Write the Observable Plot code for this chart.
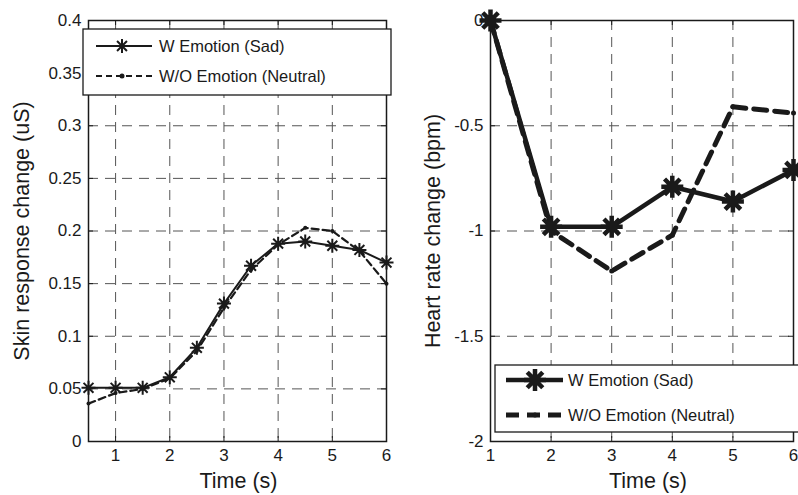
<!DOCTYPE html>
<html><head><meta charset="utf-8">
<script src="https://cdn.jsdelivr.net/npm/d3@7"></script>
<script src="https://cdn.jsdelivr.net/npm/@observablehq/plot@0.6"></script>
<style>
body{margin:0;background:#fff;}
#wrap{position:relative;width:798px;height:495px;overflow:hidden;background:#fff;font-family:"Liberation Sans",Arial,Helvetica,sans-serif;}
#wrap > svg{position:absolute;top:0;}
</style></head><body><div id="wrap"></div>
<script>
// ---- data ----
const skinTime = [0.5,1,1.5,2,2.5,3,3.5,4,4.5,5,5.5,6];
const skinSad = [0.051,0.051,0.051,0.061,0.089,0.131,0.167,0.188,0.190,0.186,0.182,0.170];
const skinNeutral = [0.036,0.046,0.050,0.060,0.086,0.127,0.163,0.187,0.203,0.200,0.181,0.150];
const skinXTicks = [1,2,3,4,5,6];
const skinYTicks = [0,0.05,0.1,0.15,0.2,0.25,0.3,0.35,0.4];
const hrTime = [1,2,3,4,5,6];
const hrSad = [0,-0.98,-0.98,-0.79,-0.86,-0.71];
const hrNeutral = [0,-1.0,-1.19,-1.02,-0.41,-0.44];
const hrXTicks = [1,2,3,4,5,6];
const hrYTicks = [0,-0.5,-1,-1.5,-2];
const seriesNames = ["W Emotion (Sad)", "W/O Emotion (Neutral)"];
const xLabel = "Time (s)";
const skinYLabel = "Skin response change (uS)";
const hrYLabel = "Heart rate change (bpm)";

const INK = "#1a1a1a";
const FONT = '"Liberation Sans", Arial, Helvetica, sans-serif';

// MATLAB-like 8-spoke asterisk
const star8 = {draw(ctx, size){
  const r = Math.sqrt(size/Math.PI), d = r*Math.SQRT1_2;
  ctx.moveTo(-r,0); ctx.lineTo(r,0);
  ctx.moveTo(0,-r); ctx.lineTo(0,r);
  ctx.moveTo(-d,-d); ctx.lineTo(d,d);
  ctx.moveTo(-d,d); ctx.lineTo(d,-d);
}};

function panel(cfg){
  const fw = cfg.width - cfg.ml - cfg.mr, fh = 495 - 20 - 54;
  const [x0,x1] = cfg.xDomain, [y0,y1] = cfg.yDomain;
  const gx = cfg.xTicks.filter(v => v > x0 && v < x1);
  const gy = cfg.yTicks.filter(v => v > y0 && v < y1);
  const rows = cfg.time.map((t,i)=>({t, sad: cfg.sad[i], neu: cfg.neu[i]}));
  return Plot.plot({
    width: cfg.width, height: 495,
    marginLeft: cfg.ml, marginRight: cfg.mr, marginTop: 20, marginBottom: 54,
    style: {fontFamily: FONT, color: INK, background: "transparent", overflow: "visible"},
    x: {domain: cfg.xDomain}, y: {domain: cfg.yDomain},
    marks: [
      Plot.ruleX(gx, {x: d=>d, stroke: "#555", strokeWidth: 1, strokeDasharray: "10,7"}),
      Plot.ruleY(gy, {y: d=>d, stroke: "#555", strokeWidth: 1, strokeDasharray: "10,7"}),
      Plot.tickX(cfg.xTicks, {x: d=>d, insetTop: fh-5, stroke: INK}),
      Plot.tickX(cfg.xTicks, {x: d=>d, insetBottom: fh-5, stroke: INK}),
      Plot.tickY(cfg.yTicks, {y: d=>d, insetRight: fw-5, stroke: INK}),
      Plot.tickY(cfg.yTicks, {y: d=>d, insetLeft: fw-5, stroke: INK}),
      Plot.frame({stroke: INK, strokeWidth: 1.5}),
      Plot.axisX({ticks: cfg.xTicks, tickSize: 0, tickPadding: 7, fontSize: 17, label: null, tickFormat: d => String(d)}),
      Plot.axisY({ticks: cfg.yTicks, tickSize: 0, tickPadding: 7, fontSize: 17, label: null, tickFormat: d => String(d)}),
      Plot.text([xLabel], {text: d=>d, frameAnchor: "bottom", dy: 40, dx: cfg.xlDx, fontSize: 21.5, fill: INK, textAnchor: "middle", lineAnchor: "middle"}),
      Plot.text([cfg.yLabel], {text: d=>d, frameAnchor: "left", dx: cfg.ylDx, rotate: -90, fontSize: 21.5, fill: INK, textAnchor: "middle", lineAnchor: "middle"}),
      Plot.line(rows, {x: "t", y: "neu", stroke: INK, strokeWidth: cfg.nw, strokeDasharray: cfg.dash}),
      Plot.dot(rows, {x: "t", y: "neu", r: cfg.nr, fill: INK, stroke: "none"}),
      Plot.line(rows, {x: "t", y: "sad", stroke: INK, strokeWidth: cfg.sw}),
      Plot.dot(rows, {x: "t", y: "sad", symbol: star8, r: cfg.sr, fill: "none", stroke: INK, strokeWidth: cfg.sw})
    ]
  });
}

const wrap = document.getElementById("wrap");
const left = panel({width: 400, ml: 88, mr: 14, xDomain: [0.5,6], yDomain: [0,0.4],
  xTicks: skinXTicks, yTicks: skinYTicks, time: skinTime, sad: skinSad, neu: skinNeutral,
  yLabel: skinYLabel, ylDx: -66, xlDx: 1, sw: 2, sr: 7, nw: 2.2, nr: 2, dash: "7,4"});
left.style.left = "0px";
wrap.appendChild(left);

const right = panel({width: 398, ml: 90, mr: 5, xDomain: [1,6], yDomain: [-2,0],
  xTicks: hrXTicks, yTicks: hrYTicks, time: hrTime, sad: hrSad, neu: hrNeutral,
  yLabel: hrYLabel, ylDx: -57, xlDx: 6, sw: 4.5, sr: 11, nw: 5, nr: 2.5, dash: "13,8"});
right.style.left = "400px";
wrap.appendChild(right);

// ---- legends (overlay) ----
const leg = d3.create("svg").attr("width", 798).attr("height", 495)
  .style("position","absolute").style("left","0px").style("top","0px")
  .style("font-family", FONT);
function legend(g, o){
  g.append("rect").attr("x", o.x).attr("y", o.y).attr("width", o.w).attr("height", o.h)
    .attr("fill", "#fff").attr("stroke", INK).attr("stroke-width", 1.3);
  // row 1
  g.append("line").attr("x1", o.lx0).attr("x2", o.lx1).attr("y1", o.r1).attr("y2", o.r1)
    .attr("stroke", INK).attr("stroke-width", o.sw);
  g.append("path").attr("transform", `translate(${o.mx},${o.r1})`)
    .attr("d", d3.symbol(star8, Math.PI*o.sr*o.sr)()).attr("fill","none").attr("stroke", INK).attr("stroke-width", o.sw);
  g.append("text").attr("x", o.tx).attr("y", o.r1).attr("dy", "0.35em").attr("font-size", o.fs).attr("fill", INK).text(seriesNames[0]);
  // row 2
  g.append("line").attr("x1", o.lx0).attr("x2", o.lx1).attr("y1", o.r2).attr("y2", o.r2)
    .attr("stroke", INK).attr("stroke-width", o.nw).attr("stroke-dasharray", o.dash);
  g.append("circle").attr("cx", o.mx).attr("cy", o.r2).attr("r", o.nr).attr("fill", INK);
  g.append("text").attr("x", o.tx).attr("y", o.r2).attr("dy", "0.35em").attr("font-size", o.fs).attr("fill", INK).text(seriesNames[1]);
}
legend(leg.append("g"), {x: 83, y: 29, w: 308, h: 66, r1: 46, r2: 76, lx0: 96, lx1: 152, mx: 122, tx: 159,
  sw: 2, sr: 7, nw: 2.2, nr: 2.5, dash: "6,4", fs: 16.5});
legend(leg.append("g"), {x: 495, y: 365, w: 330, h: 67, r1: 380, r2: 415, lx0: 506, lx1: 563, mx: 535, tx: 568,
  sw: 4.5, sr: 11, nw: 5, nr: 2.5, dash: "13,8", fs: 16.5});
wrap.appendChild(leg.node());
</script></body></html>
